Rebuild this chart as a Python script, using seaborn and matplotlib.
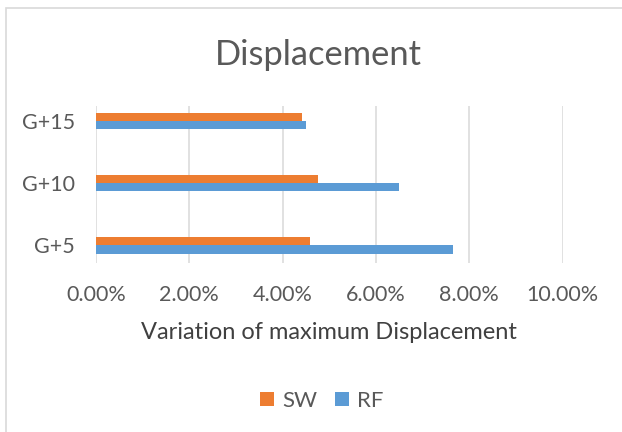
import matplotlib.pyplot as plt
import numpy as np
import pandas as pd
import seaborn as sns
from matplotlib.patches import Rectangle
from matplotlib.ticker import PercentFormatter

# data
storeys = ['G+5', 'G+10', 'G+15']
sw_values = [0.0458, 0.0476, 0.0441]
rf_values = [0.0766, 0.0650, 0.0450]
series = ['SW', 'RF']
x_ticks = [0, 0.02, 0.04, 0.06, 0.08, 0.10]

df = pd.DataFrame({
    'storey': storeys * 2,
    'system': ['SW'] * len(storeys) + ['RF'] * len(storeys),
    'value': sw_values + rf_values,
})

sns.set_theme(style='white')
plt.rcParams['font.family'] = ['Lato', 'DejaVu Sans']
text_col = '#595959'

fig = plt.figure(figsize=(6.22, 4.32), dpi=100)
ax = fig.add_axes([96 / 622, 1 - 263 / 432, (562.7 - 96) / 622, (263 - 106) / 432])

sns.barplot(data=df, x='value', y='storey', hue='system',
            order=storeys[::-1], hue_order=series,
            palette={'SW': '#ED7D31', 'RF': '#5B9BD5'},
            orient='h', width=0.27, gap=0, saturation=1,
            linewidth=0, errorbar=None, ax=ax)

ax.set_xlim(0, 0.10)
ax.set_ylim(2.285, -0.24)
ax.set_xticks(x_ticks)
ax.xaxis.set_major_formatter(PercentFormatter(xmax=1, decimals=2))
ax.grid(axis='x', color='#D9D9D9', linewidth=1.1)
ax.set_axisbelow(True)
for s in ax.spines.values():
    s.set_visible(False)
ax.tick_params(axis='x', length=0, pad=16, labelsize=15.5, labelcolor=text_col)
ax.tick_params(axis='y', length=0, pad=15, labelsize=15.5, labelcolor=text_col)
ax.set_ylabel('')
ax.set_xlabel('Variation of maximum Displacement', fontsize=17,
              color='#404040', labelpad=12)

handles, labels = ax.get_legend_handles_labels()
ax.get_legend().remove()
fig.legend(handles, labels, loc='center', bbox_to_anchor=(322 / 622, 1 - 401 / 432),
           ncol=2, frameon=False, fontsize=16, labelcolor=text_col,
           handlelength=0.6, handleheight=0.6, handletextpad=0.4, columnspacing=0.8)

fig.text(318 / 622, 1 - 55 / 432, 'Displacement', ha='center', va='center',
         fontsize=24.8, color=text_col)

# chart area border
fig.patches.append(Rectangle((6 / 622, -0.1), 1.2, 1 - 8 / 432 + 0.1,
                             transform=fig.transFigure, fill=False,
                             edgecolor='#D9D9D9', linewidth=1.2))

fig.savefig('out.png', dpi=100)
